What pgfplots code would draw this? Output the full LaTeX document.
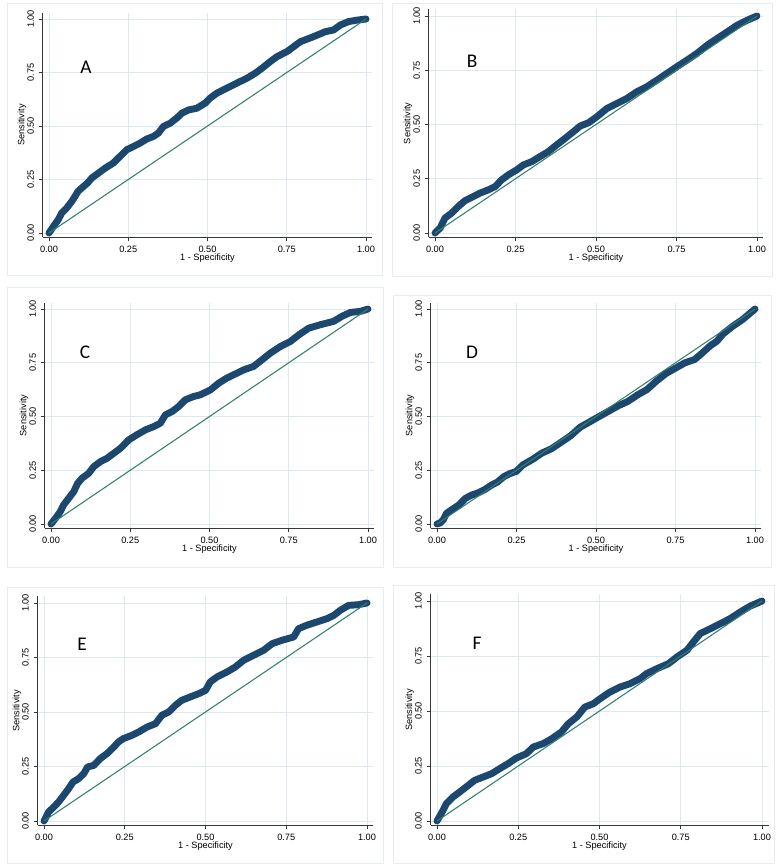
\documentclass[border=0pt]{standalone}
\usepackage{pgfplots}
\pgfplotsset{compat=1.18}
\usepackage{fontspec}
\setmainfont{Liberation Sans}
\newfontfamily\letterfont{Carlito}
\definecolor{rocnavy}{RGB}{28,72,112}
\definecolor{refteal}{RGB}{50,128,108}
\definecolor{gridc}{RGB}{222,233,239}
\definecolor{framec}{RGB}{230,237,241}
\definecolor{spine}{RGB}{55,55,55}

\pgfplotsset{rocpanel/.style={
  scale only axis,
  xmin=-0.02,xmax=1.02,ymin=-0.02,ymax=1.03,
  axis x line*=bottom, axis y line*=left,
  axis line style={spine, line width=0.7pt, -},
  xtick={0,0.25,0.5,0.75,1}, ytick={0,0.25,0.5,0.75,1},
  xticklabels={0.00,0.25,0.50,0.75,1.00},
  yticklabels={0.00,0.25,0.50,0.75,1.00},
  tick style={spine, line width=0.6pt},
  tick align=outside, major tick length=3pt,
  grid=major, major grid style={gridc, line width=0.7pt},
  ticklabel style={font=\fontsize{6.9}{7.5}\selectfont},
  yticklabel style={rotate=90, anchor=south},
  /pgf/number format/assume math mode=true,
  xlabel={1 - Specificity}, ylabel={Sensitivity},
  label style={font=\fontsize{6.9}{7.5}\selectfont},
  xlabel style={yshift=6pt},
  ylabel style={yshift=-6pt},
  clip=false,
}}
\tikzset{
  roc/.style={rocnavy, line width=5.2pt, line cap=round, line join=round},
  diag/.style={refteal, line width=0.8pt},
  panelletter/.style={font=\letterfont\fontsize{14.5}{16}\selectfont, black},
}

\begin{document}
\begin{tikzpicture}
\useasboundingbox (0,0) rectangle ({778*0.75pt},{865*0.75pt});
% panel frames
\draw[framec, line width=0.7pt] ({7*0.75pt},{(865-3)*0.75pt}) rectangle ({382*0.75pt},{(865-275)*0.75pt});
\draw[framec, line width=0.7pt] ({392*0.75pt},{(865-3)*0.75pt}) rectangle ({772*0.75pt},{(865-276)*0.75pt});
\draw[framec, line width=0.7pt] ({7*0.75pt},{(865-287)*0.75pt}) rectangle ({383*0.75pt},{(865-567)*0.75pt});
\draw[framec, line width=0.7pt] ({393*0.75pt},{(865-295)*0.75pt}) rectangle ({771*0.75pt},{(865-567)*0.75pt});
\draw[framec, line width=0.7pt] ({7*0.75pt},{(865-587)*0.75pt}) rectangle ({383*0.75pt},{(865-863)*0.75pt});
\draw[framec, line width=0.7pt] ({393*0.75pt},{(865-585)*0.75pt}) rectangle ({774*0.75pt},{(865-863)*0.75pt});

% ---------- A ----------
\begin{axis}[rocpanel, width=247.26pt, height=168.5pt,
  at={({42.66*0.75pt},{(865-237.28)*0.75pt})}, anchor=south west]
\addplot[roc] coordinates {(0,0) (0.014,0.031) (0.029,0.062) (0.04,0.093) (0.056,0.117) (0.072,0.148) (0.082,0.171) (0.091,0.194) (0.103,0.21) (0.121,0.233) (0.135,0.257) (0.156,0.28) (0.177,0.303) (0.203,0.327) (0.224,0.358) (0.245,0.389) (0.266,0.404) (0.287,0.42) (0.308,0.439) (0.329,0.451) (0.345,0.467) (0.361,0.498) (0.382,0.513) (0.403,0.537) (0.419,0.56) (0.44,0.575) (0.466,0.583) (0.493,0.607) (0.508,0.63) (0.529,0.653) (0.561,0.677) (0.592,0.7) (0.624,0.723) (0.651,0.747) (0.672,0.77) (0.698,0.801) (0.719,0.824) (0.751,0.848) (0.772,0.871) (0.793,0.894) (0.835,0.918) (0.872,0.941) (0.898,0.949) (0.919,0.972) (0.945,0.988) (0.972,0.995) (1,1)};
\addplot[diag] coordinates {(0,0) (1,1)};
\node[panelletter] at (axis cs:0.117,0.776) {A};
\end{axis}

% ---------- B ----------
\begin{axis}[rocpanel, width=251.16pt, height=170.9pt,
  at={({428.56*0.75pt},{(865-237.34)*0.75pt})}, anchor=south west]
\addplot[roc] coordinates {(0,0) (0.016,0.023) (0.031,0.069) (0.052,0.092) (0.073,0.123) (0.093,0.149) (0.119,0.168) (0.14,0.184) (0.166,0.199) (0.187,0.214) (0.207,0.245) (0.228,0.268) (0.254,0.291) (0.275,0.314) (0.301,0.329) (0.326,0.352) (0.352,0.375) (0.378,0.406) (0.404,0.436) (0.43,0.467) (0.451,0.493) (0.477,0.508) (0.503,0.536) (0.534,0.574) (0.565,0.597) (0.596,0.62) (0.627,0.651) (0.658,0.674) (0.689,0.704) (0.72,0.735) (0.751,0.766) (0.782,0.796) (0.813,0.827) (0.845,0.865) (0.876,0.896) (0.907,0.926) (0.938,0.957) (0.969,0.98) (1,1)};
\addplot[diag] coordinates {(0,0) (1,1)};
\node[panelletter] at (axis cs:0.115,0.79) {B};
\end{axis}

% ---------- C ----------
\begin{axis}[rocpanel, width=247.26pt, height=169.3pt,
  at={({44.66*0.75pt},{(865-528.3)*0.75pt})}, anchor=south west]
\addplot[roc] coordinates {(0,0) (0.014,0.026) (0.029,0.057) (0.04,0.089) (0.056,0.12) (0.072,0.151) (0.084,0.189) (0.098,0.213) (0.119,0.236) (0.135,0.267) (0.156,0.29) (0.177,0.306) (0.198,0.329) (0.219,0.352) (0.245,0.391) (0.271,0.415) (0.298,0.438) (0.324,0.453) (0.345,0.469) (0.361,0.508) (0.382,0.523) (0.403,0.547) (0.424,0.578) (0.45,0.593) (0.471,0.601) (0.503,0.624) (0.529,0.655) (0.555,0.679) (0.576,0.694) (0.608,0.717) (0.639,0.733) (0.666,0.764) (0.692,0.795) (0.724,0.826) (0.755,0.849) (0.782,0.88) (0.813,0.911) (0.85,0.927) (0.892,0.943) (0.918,0.966) (0.944,0.984) (0.976,0.989) (1,1)};
\addplot[diag] coordinates {(0,0) (1,1)};
\node[panelletter] at (axis cs:0.107,0.80) {C};
\end{axis}

% ---------- D ----------
\begin{axis}[rocpanel, width=248.04pt, height=169.3pt,
  at={({430.64*0.75pt},{(865-528.3)*0.75pt})}, anchor=south west]
\addplot[roc] coordinates {(0,0) (0.01,0.005) (0.02,0.02) (0.03,0.05) (0.05,0.07) (0.07,0.09) (0.09,0.12) (0.11,0.135) (0.13,0.145) (0.15,0.16) (0.17,0.18) (0.19,0.195) (0.21,0.22) (0.23,0.235) (0.25,0.245) (0.27,0.275) (0.3,0.3) (0.33,0.33) (0.36,0.35) (0.39,0.38) (0.42,0.41) (0.45,0.45) (0.48,0.475) (0.51,0.5) (0.54,0.525) (0.57,0.55) (0.6,0.57) (0.63,0.6) (0.66,0.625) (0.69,0.665) (0.72,0.7) (0.75,0.725) (0.78,0.75) (0.81,0.765) (0.83,0.79) (0.86,0.83) (0.88,0.85) (0.9,0.885) (0.93,0.92) (0.96,0.95) (0.98,0.975) (1,1)};
\addplot[diag] coordinates {(0,0) (1,1)};
\node[panelletter] at (axis cs:0.11,0.80) {D};
\end{axis}

% ---------- E ----------
\begin{axis}[rocpanel, width=251.94pt, height=171.7pt,
  at={({37.54*0.75pt},{(865-825.36)*0.75pt})}, anchor=south west]
\addplot[roc] coordinates {(0,0) (0.014,0.041) (0.03,0.064) (0.045,0.087) (0.061,0.118) (0.076,0.148) (0.09,0.179) (0.107,0.194) (0.123,0.217) (0.135,0.248) (0.154,0.255) (0.174,0.286) (0.195,0.309) (0.216,0.339) (0.23,0.362) (0.246,0.378) (0.272,0.393) (0.293,0.408) (0.319,0.431) (0.345,0.446) (0.365,0.485) (0.386,0.5) (0.407,0.531) (0.427,0.554) (0.453,0.569) (0.479,0.584) (0.5,0.599) (0.515,0.638) (0.536,0.661) (0.567,0.684) (0.592,0.706) (0.618,0.737) (0.649,0.76) (0.68,0.783) (0.706,0.813) (0.737,0.829) (0.773,0.844) (0.788,0.882) (0.814,0.898) (0.845,0.913) (0.876,0.928) (0.897,0.943) (0.917,0.966) (0.943,0.989) (0.974,0.992) (1,1)};
\addplot[diag] coordinates {(0,0) (1,1)};
\node[panelletter] at (axis cs:0.118,0.81) {E};
\end{axis}

% ---------- F ----------
\begin{axis}[rocpanel, width=253.5pt, height=173.25pt,
  at={({430.5*0.75pt},{(865-825.4)*0.75pt})}, anchor=south west]
\addplot[roc] coordinates {(0,0) (0.013,0.033) (0.029,0.079) (0.049,0.109) (0.07,0.132) (0.09,0.155) (0.116,0.185) (0.142,0.2) (0.168,0.215) (0.193,0.238) (0.219,0.261) (0.244,0.286) (0.275,0.306) (0.296,0.336) (0.327,0.352) (0.353,0.374) (0.383,0.405) (0.404,0.442) (0.43,0.473) (0.455,0.518) (0.481,0.533) (0.502,0.556) (0.532,0.586) (0.563,0.609) (0.594,0.624) (0.625,0.647) (0.645,0.67) (0.676,0.692) (0.712,0.715) (0.738,0.745) (0.769,0.776) (0.789,0.814) (0.81,0.852) (0.841,0.874) (0.872,0.897) (0.902,0.92) (0.933,0.95) (0.964,0.977) (1,1)};
\addplot[diag] coordinates {(0,0) (1,1)};
\node[panelletter] at (axis cs:0.123,0.81) {F};
\end{axis}
\end{tikzpicture}
\end{document}
